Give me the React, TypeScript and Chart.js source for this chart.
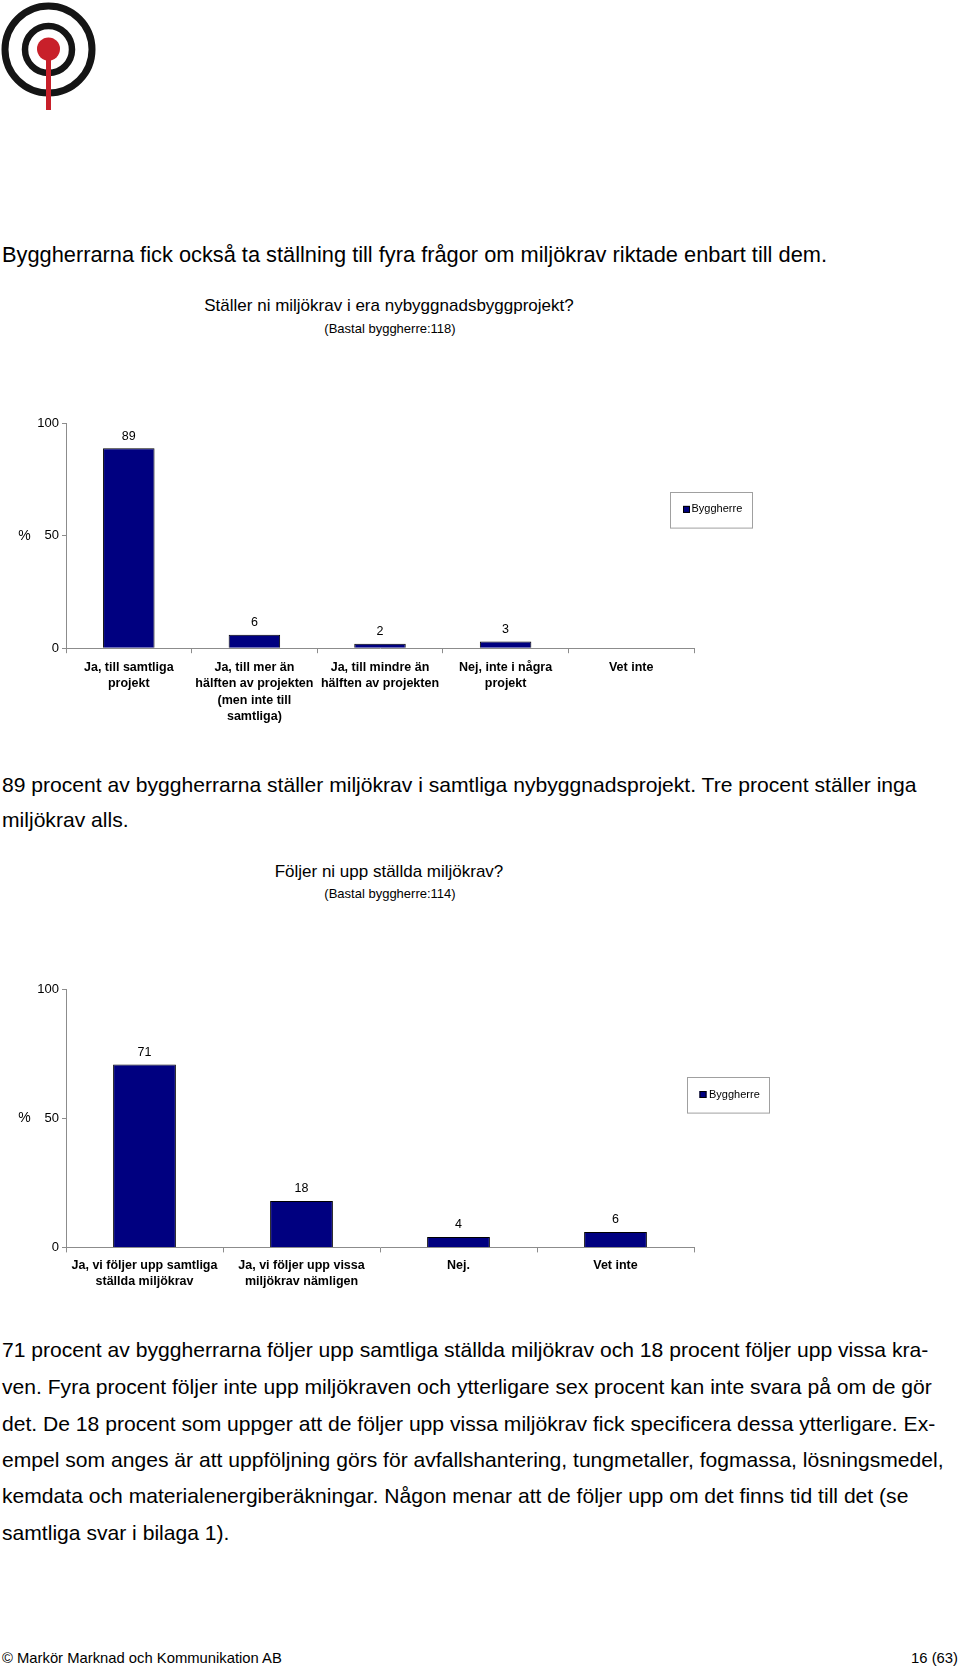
import React, { useEffect, useRef } from "react";
import { Chart, registerables } from "chart.js";

Chart.register(...registerables);

const FONT = '"Liberation Sans", Arial, Helvetica, sans-serif';

// ---------- data ----------
const seriesName = "Byggherre";
const yTicks = [0, 50, 100];

const categories1 = [
  ["Ja, till samtliga", "projekt"],
  ["Ja, till mer än", "hälften av projekten", "(men inte till", "samtliga)"],
  ["Ja, till mindre än", "hälften av projekten"],
  ["Nej, inte i några", "projekt"],
  ["Vet inte"],
];
const values1 = [89, 6, 2, 3, 0];

const categories2 = [
  ["Ja, vi följer upp samtliga", "ställda miljökrav"],
  ["Ja, vi följer upp vissa", "miljökrav nämligen"],
  ["Nej."],
  ["Vet inte"],
];
const values2 = [71, 18, 4, 6];

const headerText = "Byggherrarna fick också ta ställning till fyra frågor om miljökrav riktade enbart till dem.";
const title1 = "Ställer ni miljökrav i era nybyggnadsbyggprojekt?";
const subtitle1 = "(Bastal byggherre:118)";
const title2 = "Följer ni upp ställda miljökrav?";
const subtitle2 = "(Bastal byggherre:114)";
const paragraph1 = [
  "89 procent av byggherrarna ställer miljökrav i samtliga nybyggnadsprojekt. Tre procent ställer inga",
  "miljökrav alls.",
];
const paragraph2 = [
  "71 procent av byggherrarna följer upp samtliga ställda miljökrav och 18 procent följer upp vissa kra-",
  "ven. Fyra procent följer inte upp miljökraven och ytterligare sex procent kan inte svara på om de gör",
  "det. De 18 procent som uppger att de följer upp vissa miljökrav fick specificera dessa ytterligare. Ex-",
  "empel som anges är att uppföljning görs för avfallshantering, tungmetaller, fogmassa, lösningsmedel,",
  "kemdata och materialenergiberäkningar. Någon menar att de följer upp om det finns tid till det (se",
  "samtliga svar i bilaga 1).",
];
const footerLeft = "© Markör Marknad och Kommunikation AB";
const footerRight = "16 (63)";

// ---------- plugin ----------
const decoPlugin = {
  id: "excelDeco",
  afterDatasetsDraw(chart: any, _args: any, opts: any) {
    const { ctx } = chart;
    const meta = chart.getDatasetMeta(0);
    const data = chart.data.datasets[0].data as number[];
    ctx.save();
    ctx.fillStyle = "#000";
    ctx.font = `12.5px ${FONT}`;
    ctx.textAlign = "center";
    ctx.textBaseline = "alphabetic";
    meta.data.forEach((el: any, i: number) => {
      if (!data[i]) return;
      ctx.fillText(String(data[i]), el.x, el.y - 8.6);
    });
    const ys = chart.scales.y;
    ctx.font = `14px ${FONT}`;
    ctx.textBaseline = "middle";
    ctx.fillText("%", 24.5, ys.getPixelForValue(50));
    const L = opts.legend;
    if (L) {
      ctx.strokeStyle = "#a0a0a0";
      ctx.lineWidth = 1;
      ctx.strokeRect(Math.round(L.x) + 0.5, Math.round(L.y) + 0.5, L.w, L.h);
      ctx.fillStyle = "#000080";
      ctx.fillRect(L.sx, L.cy - 3.5, 7, 7);
      ctx.strokeStyle = "#000";
      ctx.strokeRect(L.sx + 0.5, L.cy - 3.5 + 0.5, 6, 6);
      ctx.fillStyle = "#000";
      ctx.font = `11px ${FONT}`;
      ctx.textAlign = "left";
      ctx.textBaseline = "middle";
      ctx.fillText(seriesName, L.tx, L.cy);
    }
    ctx.restore();
  },
};

type ChartProps = {
  labels: string[][];
  values: number[];
  top: number;
  width: number;
  height: number;
  padTop: number;
  areaBottom: number;
  tickPad: number;
  barPct: number;
  legend: any;
};

function BarChart(p: ChartProps) {
  const ref = useRef<HTMLCanvasElement>(null);
  useEffect(() => {
    const chart = new Chart(ref.current as HTMLCanvasElement, {
      type: "bar",
      data: {
        labels: p.labels as any,
        datasets: [
          {
            label: seriesName,
            data: p.values,
            backgroundColor: "#000080",
            borderColor: "#000000",
            borderWidth: 1,
            barPercentage: p.barPct,
            categoryPercentage: 1,
          },
        ],
      },
      options: {
        responsive: false,
        maintainAspectRatio: false,
        animation: false,
        devicePixelRatio: 1,
        layout: { padding: { top: p.padTop, right: p.width - 694, left: 0, bottom: 0 } },
        plugins: {
          legend: { display: false },
          tooltip: { enabled: false },
          excelDeco: { legend: p.legend },
        } as any,
        scales: {
          x: {
            grid: { offset: true, drawOnChartArea: false, drawTicks: true, tickLength: 5, color: "#8c8c8c" },
            border: { color: "#8c8c8c" },
            ticks: {
              font: { family: FONT, size: 12.5, weight: "bold", lineHeight: "16.5px" } as any,
              color: "#000",
              padding: p.tickPad,
              maxRotation: 0,
              minRotation: 0,
              autoSkip: false,
            },
            afterFit: (s: any) => {
              s.height = p.height - p.areaBottom;
            },
          },
          y: {
            min: 0,
            max: 100,
            afterBuildTicks: (s: any) => {
              s.ticks = yTicks.map((v) => ({ value: v }));
            },
            grid: { drawOnChartArea: false, drawTicks: true, tickLength: 4, color: "#8c8c8c" },
            border: { color: "#8c8c8c" },
            ticks: { font: { family: FONT, size: 13 }, color: "#000", padding: 3 },
            afterFit: (s: any) => {
              s.width = 66;
            },
          },
        },
      },
      plugins: [decoPlugin as any],
    });
    return () => chart.destroy();
  }, []);
  return (
    <canvas
      ref={ref}
      width={p.width}
      height={p.height}
      style={{ position: "absolute", left: 0, top: p.top, width: p.width, height: p.height }}
    />
  );
}

function Txt({ x, baseline, size, children, center, right, bold }: any) {
  const top = baseline - 0.8465 * size;
  const style: any = {
    position: "absolute",
    top,
    fontFamily: FONT,
    fontSize: size,
    lineHeight: `${size}px`,
    whiteSpace: "nowrap",
    color: "#000",
    fontWeight: bold ? "bold" : "normal",
  };
  if (center) {
    style.left = x - 400;
    style.width = 800;
    style.textAlign = "center";
  } else if (right) {
    style.right = 960 - x;
    style.textAlign = "right";
  } else {
    style.left = x;
  }
  return <div style={style}>{children}</div>;
}

function Logo() {
  return (
    <svg width={100} height={115} style={{ position: "absolute", left: 0, top: 0 }}>
      <circle cx={48.5} cy={49.5} r={43.5} fill="none" stroke="#151515" strokeWidth={7} />
      <circle cx={48.5} cy={49.5} r={23.5} fill="none" stroke="#151515" strokeWidth={6.5} />
      <rect x={46} y={49} width={5} height={61} fill="#c8202a" />
      <circle cx={48.5} cy={49} r={11.5} fill="#c8202a" />
    </svg>
  );
}

export default function App() {
  const p2Baselines = [1357, 1394, 1430.5, 1466.5, 1503, 1540];
  return (
    <div
      style={{
        position: "absolute",
        left: 0,
        top: 0,
        width: 960,
        height: 1669,
        background: "#fff",
        overflow: "hidden",
      }}
    >
      <Logo />
      <Txt x={2} baseline={262} size={21.8}>{headerText}</Txt>
      <Txt x={389} baseline={311.5} size={17} center>{title1}</Txt>
      <Txt x={390} baseline={333.5} size={13} center>{subtitle1}</Txt>
      <BarChart
        labels={categories1}
        values={values1}
        top={400}
        width={800}
        height={330}
        padTop={23.6}
        areaBottom={248.2}
        tickPad={5.6}
        barPct={0.41}
        legend={{ x: 670, y: 91.7, w: 82, h: 35.6, sx: 683, tx: 691.5, cy: 109.4 }}
      />
      <Txt x={2} baseline={791.8} size={21.1}>{paragraph1[0]}</Txt>
      <Txt x={2} baseline={827} size={21.1}>{paragraph1[1]}</Txt>
      <Txt x={389} baseline={877.7} size={17} center>{title2}</Txt>
      <Txt x={390} baseline={898.5} size={13} center>{subtitle2}</Txt>
      <BarChart
        labels={categories2}
        values={values2}
        top={960}
        width={800}
        height={340}
        padTop={29.8}
        areaBottom={287.4}
        tickPad={4.85}
        barPct={0.4}
        legend={{ x: 687, y: 116.7, w: 82, h: 35.6, sx: 699.5, tx: 709, cy: 134.5 }}
      />
      {paragraph2.map((line, i) => (
        <Txt key={i} x={2} baseline={p2Baselines[i]} size={21.1}>{line}</Txt>
      ))}
      <Txt x={2} baseline={1664} size={14.8}>{footerLeft}</Txt>
      <Txt x={958} baseline={1664} size={14.8} right>{footerRight}</Txt>
    </div>
  );
}
